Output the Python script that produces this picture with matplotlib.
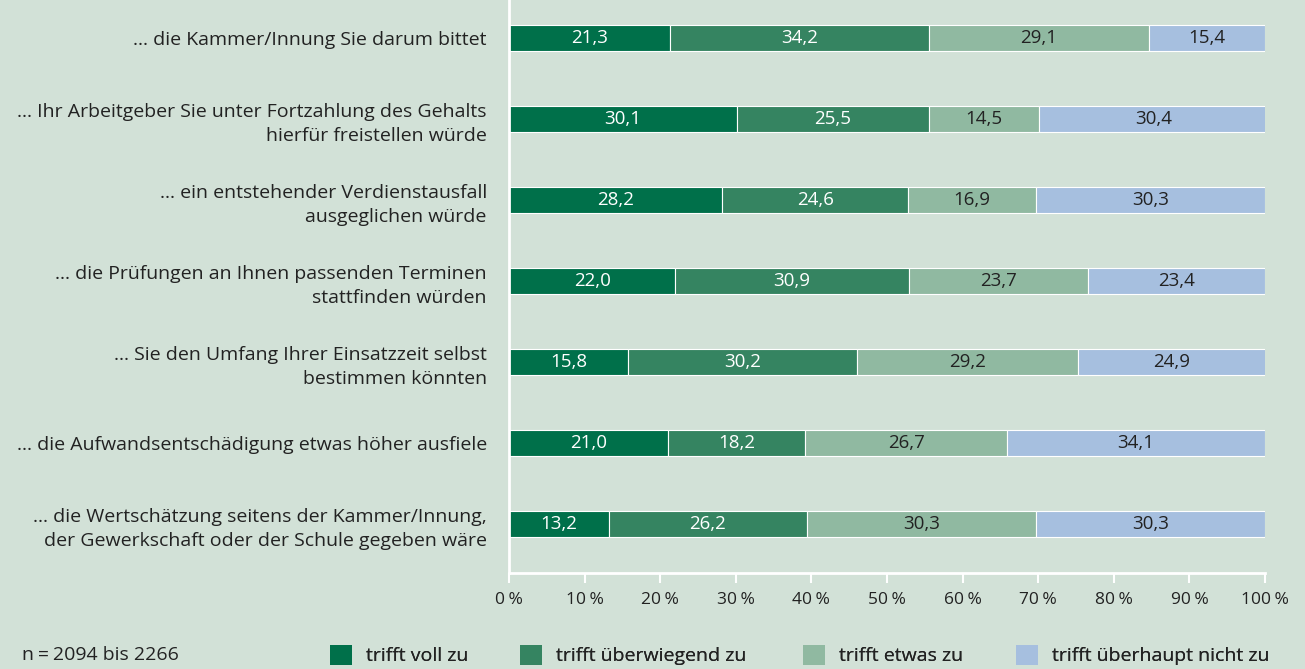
import matplotlib.pyplot as plt
from matplotlib.patches import Patch

plt.rcParams['font.family'] = ['Open Sans', 'DejaVu Sans']

statements = [
    "... die Kammer/Innung Sie darum bittet",
    "... Ihr Arbeitgeber Sie unter Fortzahlung des Gehalts\nhierfür freistellen würde",
    "... ein entstehender Verdienstausfall\nausgeglichen würde",
    "... die Prüfungen an Ihnen passenden Terminen\nstattfinden würden",
    "... Sie den Umfang Ihrer Einsatzzeit selbst\nbestimmen könnten",
    "... die Aufwandsentschädigung etwas höher ausfiele",
    "... die Wertschätzung seitens der Kammer/Innung,\nder Gewerkschaft oder der Schule gegeben wäre",
]
voll = [21.3, 30.1, 28.2, 22.0, 15.8, 21.0, 13.2]
ueberwiegend = [34.2, 25.5, 24.6, 30.9, 30.2, 18.2, 26.2]
etwas = [29.1, 14.5, 16.9, 23.7, 29.2, 26.7, 30.3]
nicht = [15.4, 30.4, 30.3, 23.4, 24.9, 34.1, 30.3]
series_names = ["trifft voll zu", "trifft überwiegend zu", "trifft etwas zu", "trifft überhaupt nicht zu"]
ticks = [0, 10, 20, 30, 40, 50, 60, 70, 80, 90, 100]

bg = '#d2e1d7'
colors = ['#00704a', '#358461', '#90b9a1', '#a6bfdf']
text_colors = ['white', 'white', '#222222', '#222222']

fig = plt.figure(figsize=(13.05, 6.69), dpi=100, facecolor=bg)
ax = fig.add_axes([509 / 1305, 1 - 573 / 669, 756 / 1305, 573 / 669])
ax.set_facecolor(bg)

ypos = list(range(len(statements)))
left = [0.0] * len(statements)
for vals, col, tcol in zip([voll, ueberwiegend, etwas, nicht], colors, text_colors):
    ax.barh(ypos, vals, left=left, height=0.32, color=col, edgecolor='white', linewidth=0.8)
    for y, l, v in zip(ypos, left, vals):
        ax.text(l + v / 2, y, f"{v:.1f}".replace('.', ','), ha='center', va='center',
                color=tcol, fontsize=13.5)
    left = [a + b for a, b in zip(left, vals)]

ax.set_xlim(0, 100)
ax.set_ylim(6.605, -0.47)
ax.set_yticks(ypos)
ax.set_yticklabels(statements, fontsize=14, color='#222222', linespacing=1.45)
ax.tick_params(axis='y', length=0, pad=16)
ax.set_xticks(ticks)
ax.set_xticklabels([f"{t}\u202f%" for t in ticks], fontsize=12.5, color='#222222')
ax.tick_params(axis='x', length=7, width=1.5, color='white', pad=7)

for s in ['top', 'right']:
    ax.spines[s].set_visible(False)
ax.spines['left'].set_color('white')
ax.spines['left'].set_linewidth(2)
ax.spines['bottom'].set_color('white')
ax.spines['bottom'].set_linewidth(2)

fig.text(22 / 1305, 1 - 655 / 669, "n\u202f=\u202f2094 bis 2266", fontsize=14, color='#222222',
         va='center', ha='left')

# one legend per entry so each sits where the reference puts it
legend_x = [330, 520, 803, 1016]
for name, col, lx in zip(series_names, colors, legend_x):
    leg = fig.legend([Patch(facecolor=col, edgecolor='none')], [name], loc='center left',
                     bbox_to_anchor=(lx / 1305, 1 - 655 / 669), borderaxespad=0, borderpad=0,
                     frameon=False, fontsize=14, handlelength=1.13, handleheight=1.24,
                     handletextpad=0.7, labelcolor='#222222')
    fig.add_artist(leg)

fig.savefig('out.png', dpi=100, facecolor=bg)
